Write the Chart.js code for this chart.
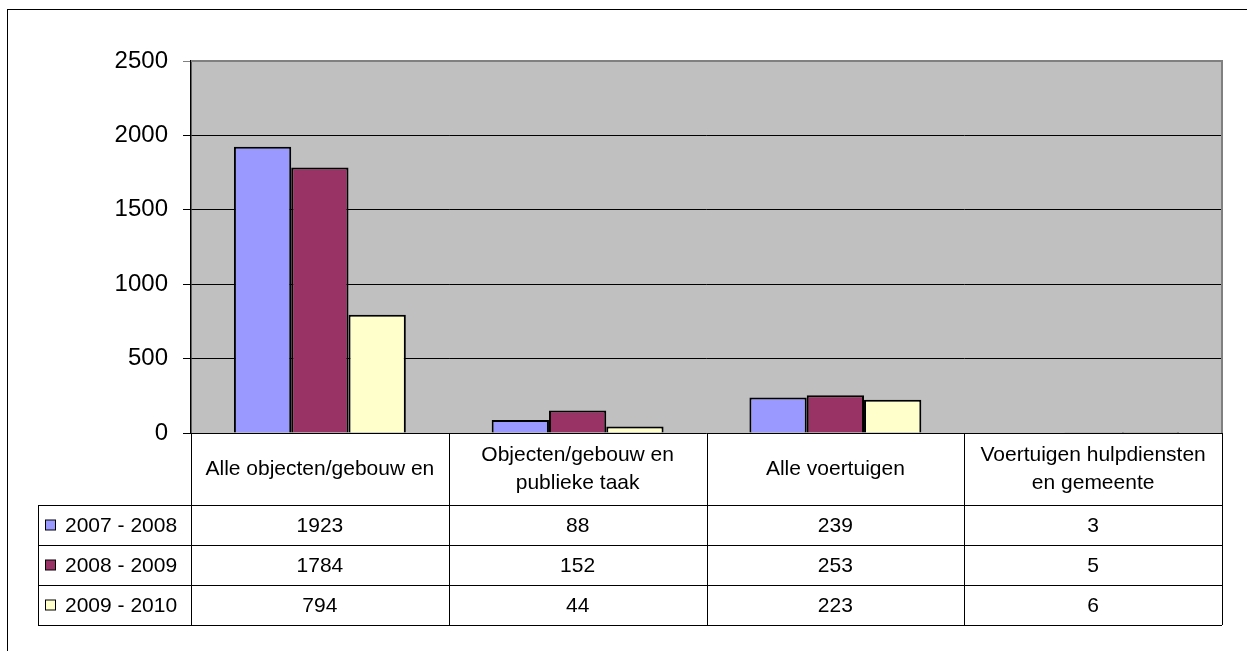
<!DOCTYPE html>
<html lang="nl">
<head>
    <meta charset="UTF-8">
    <title>Objecten en voertuigen</title>
    <script src="https://cdn.jsdelivr.net/npm/chart.js@4.4.0/dist/chart.umd.min.js"></script>
    <style>
        html, body { margin: 0; padding: 0; background: #fff; }
        #wrap { width: 1247px; height: 651px; }
    </style>
</head>
<body>
    <div id="wrap"><canvas id="myChart" width="1247" height="651"></canvas></div>
    <script>
        // data
        var categories = [
            ['Alle objecten/gebouw en'],
            ['Objecten/gebouw en', 'publieke taak'],
            ['Alle voertuigen'],
            ['Voertuigen hulpdiensten', 'en gemeente']
        ];
        var seriesNames = ['2007 - 2008', '2008 - 2009', '2009 - 2010'];
        var vals0708 = [1923, 88, 239, 3];
        var vals0809 = [1784, 152, 253, 5];
        var vals0910 = [794, 44, 223, 6];
        var yMin = 0, yMax = 2500, yStep = 500;

        var colors = ['#9999FF', '#993366', '#FFFFCC'];
        var tableFont = '21px "Liberation Sans", Arial, sans-serif';

        // grey plot area + outer frame
        var plotBg = {
            id: 'plotBg',
            beforeDraw: function (chart) {
                var c = chart.ctx, a = chart.chartArea;
                c.save();
                c.fillStyle = '#fff';
                c.fillRect(0, 0, chart.width, chart.height);
                c.strokeStyle = '#000';
                c.lineWidth = 1;
                c.strokeRect(7.5, 9.5, 1400, 800);
                c.fillStyle = '#C0C0C0';
                c.fillRect(a.left, a.top, a.right - a.left, a.bottom - a.top);
                c.restore();
            },
            afterDatasetsDraw: function (chart) {
                var c = chart.ctx, a = chart.chartArea;
                c.save();
                c.strokeStyle = '#808080';
                c.lineWidth = 2;
                c.beginPath();
                c.moveTo(a.left, a.top);
                c.lineTo(a.right, a.top);
                c.lineTo(a.right, a.bottom);
                c.stroke();
                c.restore();
            }
        };

        // excel style data table under the plot
        var dataTable = {
            id: 'dataTable',
            afterDraw: function (chart) {
                var c = chart.ctx, a = chart.chartArea, xs = chart.scales.x;
                var n = categories.length;
                var colW = (a.right - a.left) / n;
                var top = a.bottom, headH = 72, rowH = 40, tLeft = 38;
                var rows = [vals0708, vals0809, vals0910];
                var bottom = top + headH + rowH * rows.length;

                c.save();
                c.strokeStyle = '#000';
                c.lineWidth = 1;
                // vertical lines
                for (var i = 0; i <= n; i++) {
                    var x = Math.round(a.left + i * colW) + 0.5;
                    c.beginPath();
                    c.moveTo(x, top);
                    c.lineTo(x, bottom);
                    c.stroke();
                }
                c.beginPath();
                c.moveTo(tLeft + 0.5, top + headH);
                c.lineTo(tLeft + 0.5, bottom);
                c.stroke();
                // horizontal lines
                for (var r = 0; r <= rows.length; r++) {
                    var y = top + headH + r * rowH + 0.5;
                    c.beginPath();
                    c.moveTo(tLeft, y);
                    c.lineTo(a.right, y);
                    c.stroke();
                }

                c.fillStyle = '#000';
                c.font = tableFont;
                c.textAlign = 'center';
                c.textBaseline = 'middle';
                // header labels
                for (var k = 0; k < n; k++) {
                    var cx = xs.getPixelForValue(k);
                    var lines = categories[k];
                    var lh = 28;
                    var y0 = top + headH / 2 - (lines.length - 1) * lh / 2;
                    for (var l = 0; l < lines.length; l++) {
                        c.fillText(lines[l], cx, y0 + l * lh);
                    }
                }
                // values + legend keys
                for (var r2 = 0; r2 < rows.length; r2++) {
                    var cy = top + headH + r2 * rowH + rowH / 2;
                    c.textAlign = 'center';
                    for (var k2 = 0; k2 < n; k2++) {
                        c.fillText(String(rows[r2][k2]), xs.getPixelForValue(k2), cy + 1);
                    }
                    c.fillStyle = colors[r2];
                    c.fillRect(45.5, cy - 5, 10, 10);
                    c.strokeRect(45.5, cy - 5, 10, 10);
                    c.fillStyle = '#000';
                    c.textAlign = 'left';
                    c.fillText(seriesNames[r2], 65, cy + 1);
                }
                c.restore();
            }
        };

        var ctx = document.getElementById('myChart').getContext('2d');
        var myChart = new Chart(ctx, {
            type: 'bar',
            data: {
                labels: categories,
                datasets: [
                    { label: seriesNames[0], data: vals0708, backgroundColor: colors[0], borderColor: '#000', borderWidth: 2 },
                    { label: seriesNames[1], data: vals0809, backgroundColor: colors[1], borderColor: '#000', borderWidth: 2 },
                    { label: seriesNames[2], data: vals0910, backgroundColor: colors[2], borderColor: '#000', borderWidth: 2 }
                ]
            },
            options: {
                responsive: false,
                animation: false,
                events: [],
                layout: { padding: { top: 61, right: 25, bottom: 218, left: 0 } },
                datasets: { bar: { categoryPercentage: 0.667, barPercentage: 1.0 } },
                plugins: {
                    legend: { display: false },
                    tooltip: { enabled: false }
                },
                scales: {
                    x: { display: false, offset: true },
                    y: {
                        min: yMin,
                        max: yMax,
                        afterFit: function (scale) { scale.width = 191; },
                        ticks: {
                            stepSize: yStep,
                            padding: 15,
                            color: '#000',
                            font: { family: '"Liberation Sans", Arial, sans-serif', size: 24 },
                            callback: function (v) { return String(v); }
                        },
                        grid: {
                            color: function (c) { return c.tick && c.tick.value === yMax ? '#808080' : '#000'; },
                            lineWidth: 1,
                            tickLength: 8,
                            tickColor: function (c) { return c.tick && c.tick.value === yMax ? '#808080' : '#000'; }
                        },
                        border: { color: '#000', width: 1.5 }
                    }
                }
            },
            plugins: [plotBg, dataTable]
        });
    </script>
</body>
</html>
